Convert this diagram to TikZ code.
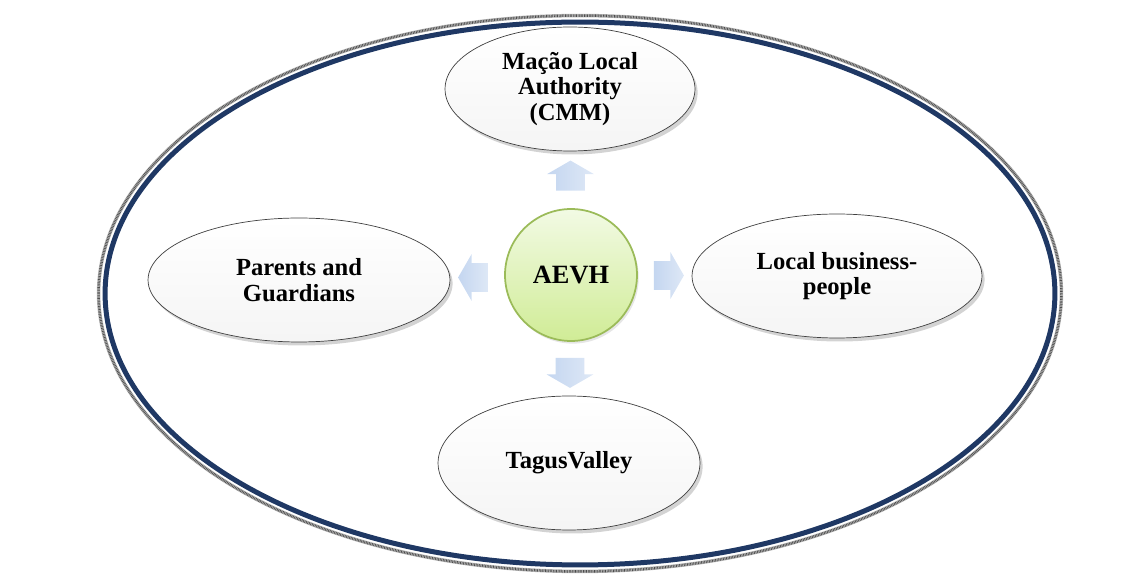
\documentclass[tikz,border=0pt]{standalone}
\usepackage{fontspec}
\setmainfont{Liberation Serif}
\usetikzlibrary{shapes.geometric, shapes.arrows, shadows, calc}
\definecolor{navy}{RGB}{31,56,100}
\definecolor{hubedge}{RGB}{155,187,89}
\definecolor{hubtop}{RGB}{242,250,228}
\definecolor{hubbottom}{RGB}{208,236,150}
\definecolor{flowtail}{RGB}{196,214,240}
\definecolor{flowtip}{RGB}{222,232,246}

\begin{document}
\begin{tikzpicture}[x=0.02cm,y=-0.02cm]
			\tikzstyle{group} = [ellipse,draw=black!75,line width=0.4pt,top color=white,bottom color=black!4,align=center,font=\fontsize{14}{14.5}\selectfont\bfseries,drop shadow={shadow xshift=1.5pt,shadow yshift=-2pt,opacity=0.35}]
			\tikzstyle{hub} = [circle,draw=hubedge,line width=1pt,top color=hubtop,bottom color=hubbottom,minimum size=2.64cm,font=\fontsize{15}{15.5}\selectfont\bfseries,drop shadow={shadow xshift=1pt,shadow yshift=-1.5pt,opacity=0.2}]
			\tikzstyle{flow} = [single arrow,draw=none,left color=flowtail,right color=flowtip,minimum height=0.6cm,single arrow head extend=0.18cm,single arrow tip angle=120,inner xsep=0pt,inner ysep=0.28cm]
			\tikzstyle{hatchring} = [line width=0.07cm]
			\useasboundingbox (0,0) rectangle (1140,580);
			\draw[hatchring,gray!55] (580,293.5) ellipse [x radius=9.63cm,y radius=5.56cm];
			\draw[hatchring,black!70,line width=0.05cm,dash pattern=on 0.4pt off 0.5pt] (580,293.5) ellipse [x radius=9.63cm,y radius=5.56cm];
			\draw[navy,line width=0.1cm] (580,293.5) ellipse [x radius=9.5cm,y radius=5.43cm];
			\node[hub] (aevh) at (571,275) {AEVH};
			\node[group,minimum width=5cm,minimum height=2.48cm] (cmm) at (570,89) {Mação Local\\Authority\\(CMM)};
			\node[group,minimum width=6.04cm,minimum height=2.48cm] (parents) at (299,280) {Parents and\\Guardians};
			\node[group,minimum width=5.8cm,minimum height=2.48cm] (business) at (837,276) {Local business-\\people};
			\node[group,minimum width=5.24cm,minimum height=2.68cm] (tagus) at (569,463) {TagusValley};
			\node[flow,rotate=90] (up) at ($(aevh.north)!0.5!(cmm.south)$) {};
			\node[flow,rotate=-90] (down) at ($(aevh.south)!0.5!(tagus.north)$) {};
			\node[flow,rotate=180] (left) at ($(aevh.west)!0.5!(parents.east)$) {};
			\node[flow] (right) at ($(aevh.east)!0.5!(business.west)$) {};
			\end{tikzpicture}
\end{document}
